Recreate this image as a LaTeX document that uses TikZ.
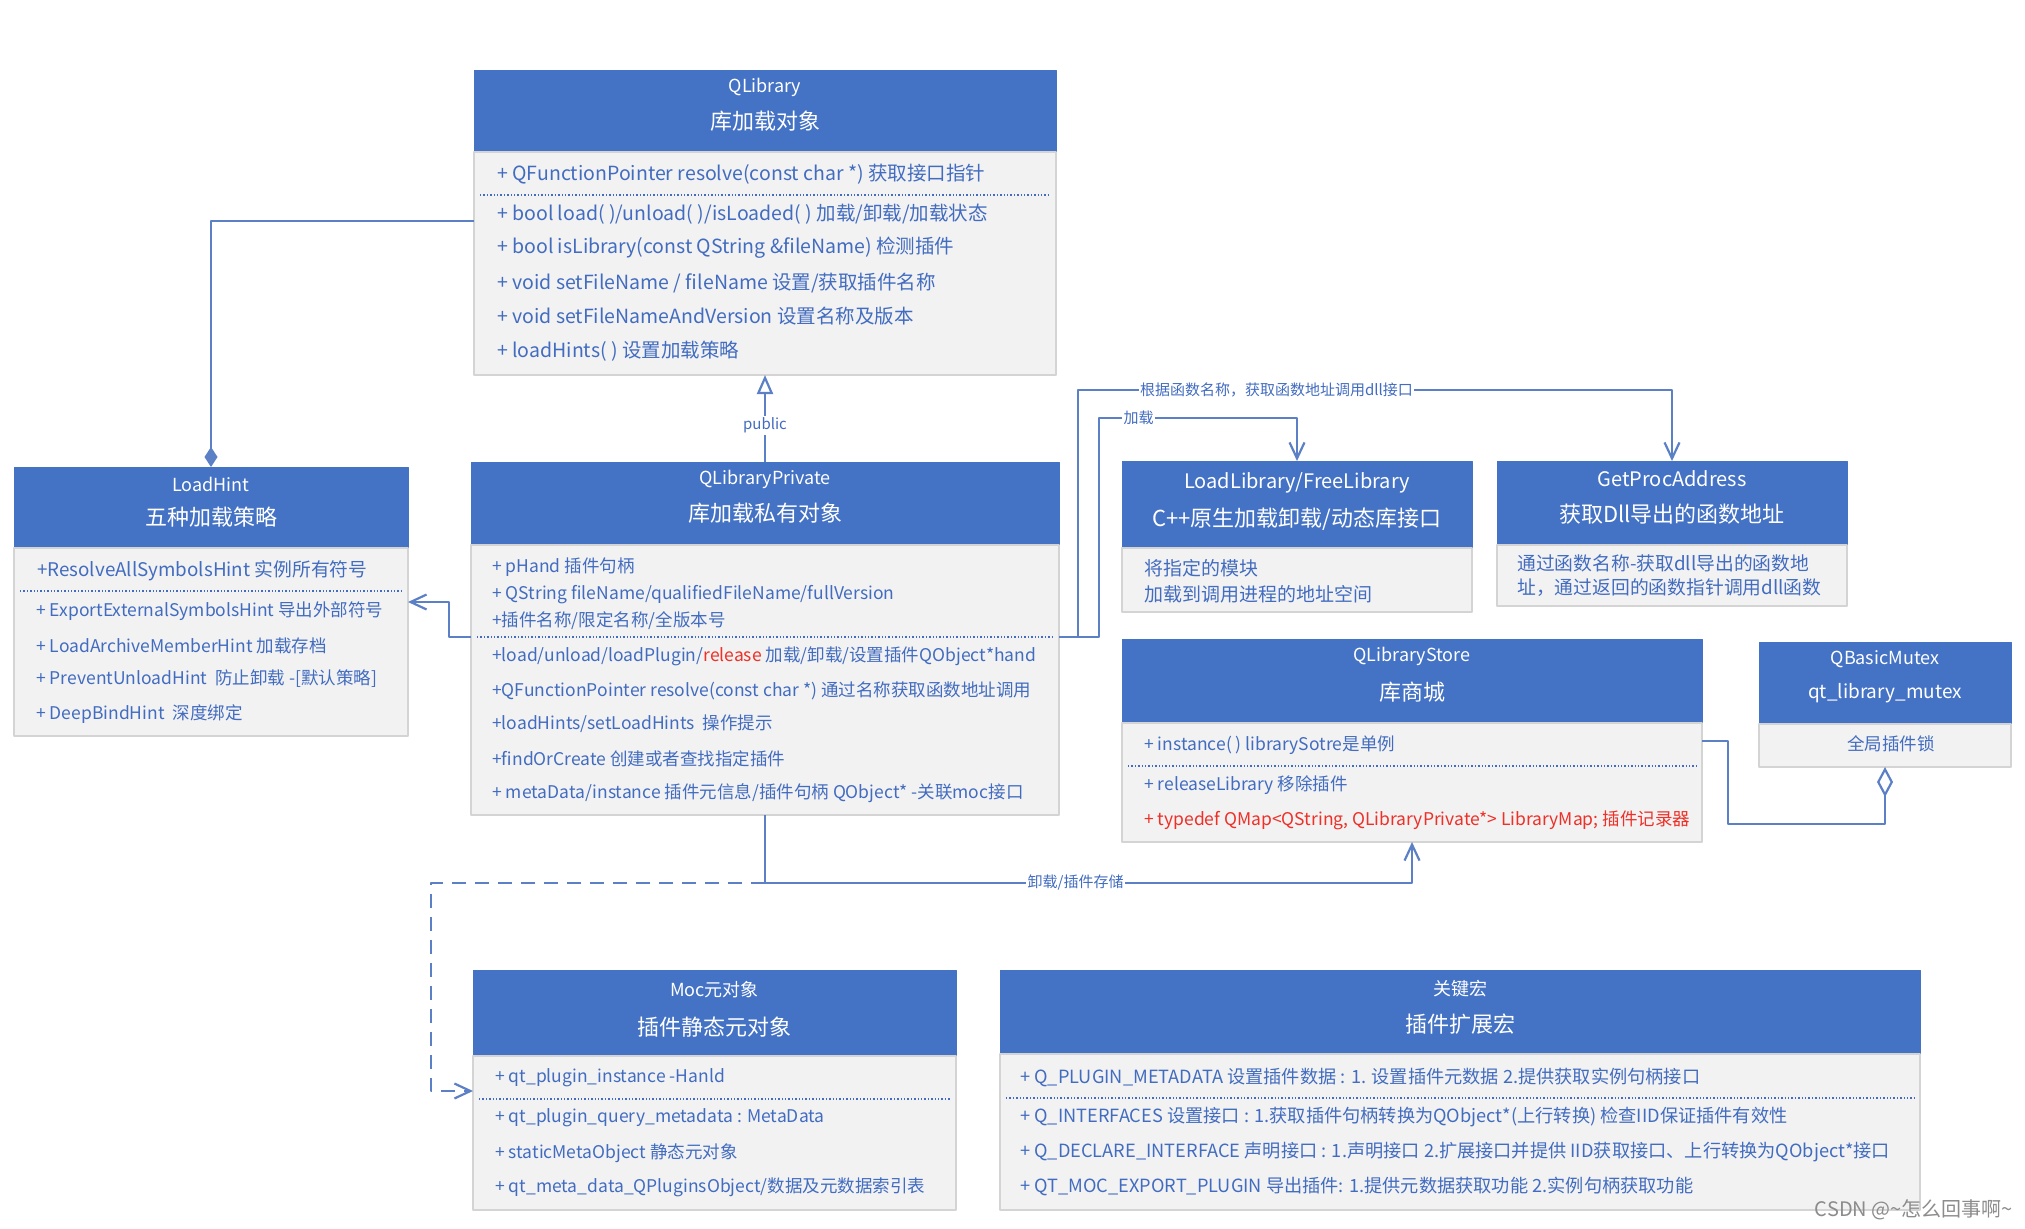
\documentclass[tikz,border=0pt]{standalone}
\usepackage{fontspec}
\setmainfont{Noto Sans CJK SC}
\usetikzlibrary{arrows.meta,positioning}
\definecolor{hblue}{RGB}{68,114,196}
\definecolor{tblue}{RGB}{66,108,192}
\definecolor{cblue}{RGB}{92,128,198}
\definecolor{bodyfill}{RGB}{242,242,242}
\definecolor{bodyline}{RGB}{212,212,212}
\definecolor{hred}{RGB}{238,48,40}

\tikzset{
  head/.style={fill=hblue, draw=hblue, inner sep=0pt, outer sep=0pt},
  body/.style={fill=bodyfill, draw=bodyline, line width=1.5pt, inner sep=0pt, outer sep=0pt},
  hname/.style={text=white, inner sep=0pt, font=\fontsize{18}{20}\selectfont},
  hdesc/.style={text=white, inner sep=0pt, font=\fontsize{22}{24}\selectfont},
  member/.style={anchor=west, text=tblue, inner sep=0pt, font=\fontsize{17.5}{19}\selectfont},
  bigmember/.style={member, font=\fontsize{19.5}{21}\selectfont},
  sepline/.style={tblue, line width=1.4pt, dotted},
  conn/.style={cblue, line width=2.2pt},
  lbl/.style={fill=white, text=tblue, inner sep=1.5pt, font=\fontsize{15}{17}\selectfont},
}

\begin{document}
\begin{tikzpicture}[x=1pt, y=-1pt, line join=round]
\fill[white] (0,0) rectangle (2025,1228);
\useasboundingbox (0,0) rectangle (2025,1228);

% QLibrary
\node[head, minimum width=582, minimum height=82] (qlibHead) at (765,111) {};
\node[body, minimum width=582, minimum height=223, below=0pt of qlibHead] (qlibBody) {};
\node[hname] (qlibName) at (765,87) {QLibrary};
\node[hdesc] (qlibDesc) at (765,121) {库加载对象};
\node[bigmember] (qlibM1) at (497,174) {+ QFunctionPointer resolve(const char *) 获取接口指针};
\draw[sepline] (480,195) -- (1050,195);
\node[bigmember] (qlibM2) at (497,214) {+ bool load( )/unload( )/isLoaded( ) 加载/卸载/加载状态};
\node[bigmember] (qlibM3) at (497,248) {+ bool isLibrary(const QString \&fileName) 检测插件};
\node[bigmember] (qlibM4) at (497,283) {+ void setFileName / fileName 设置/获取插件名称};
\node[bigmember] (qlibM5) at (497,316) {+ void setFileNameAndVersion 设置名称及版本};
\node[bigmember] (qlibM6) at (497,351) {+ loadHints( ) 设置加载策略};

% LoadHint
\node[head, minimum width=394, minimum height=81] (hintHead) at (211,507.5) {};
\node[body, minimum width=394, minimum height=188, below=0pt of hintHead] (hintBody) {};
\node[hname] (hintName) at (211,484) {LoadHint};
\node[hdesc] (hintDesc) at (211,517) {五种加载策略};
\node[member, font=\fontsize{18.8}{20}\selectfont] (hintM1) at (37,571) {+ResolveAllSymbolsHint 实例所有符号};
\draw[sepline] (20,591) -- (402,591);
\node[member] (hintM2) at (36,611) {+ ExportExternalSymbolsHint 导出外部符号};
\node[member] (hintM3) at (36,646) {+ LoadArchiveMemberHint 加载存档};
\node[member] (hintM4) at (36,679) {+ PreventUnloadHint \ 防止卸载 -[默认策略]};
\node[member] (hintM5) at (36,714) {+ DeepBindHint \ 深度绑定};

% QLibraryPrivate
\node[head, minimum width=588, minimum height=83] (qprivHead) at (765,503.5) {};
\node[body, minimum width=588, minimum height=270, below=0pt of qprivHead] (qprivBody) {};
\node[hname] (qprivName) at (765,479) {QLibraryPrivate};
\node[hdesc] (qprivDesc) at (765,513) {库加载私有对象};
\node[member] (qprivM1) at (492,567) {+ pHand 插件句柄};
\node[member] (qprivM2) at (492,595) {+ QString fileName/qualifiedFileName/fullVersion};
\node[member] (qprivM3) at (492,621) {+插件名称/限定名称/全版本号};
\draw[sepline] (477,637) -- (1052,637);
\node[member] (qprivM4) at (492,656) {+load/unload/loadPlugin/\textcolor{hred}{release} 加载/卸载/设置插件QObject*hand};
\node[member] (qprivM5) at (492,691) {+QFunctionPointer resolve(const char *) 通过名称获取函数地址调用};
\node[member] (qprivM6) at (492,724) {+loadHints/setLoadHints \ 操作提示};
\node[member] (qprivM7) at (492,759) {+findOrCreate 创建或者查找指定插件};
\node[member] (qprivM8) at (492,793) {+ metaData/instance 插件元信息/插件句柄 QObject* -关联moc接口};

% LoadLibrary
\node[head, minimum width=350, minimum height=87] (llHead) at (1297,504.5) {};
\node[body, minimum width=350, minimum height=64, below=0pt of llHead] (llBody) {};
\node[hname, font=\fontsize{20}{22}\selectfont] (llName) at (1297,483) {LoadLibrary/FreeLibrary};
\node[hdesc] (llDesc) at (1297,519) {C++原生加载卸载/动态库接口};
\node[member, font=\fontsize{19}{21}\selectfont] (llM1) at (1144,568) {将指定的模块};
\node[member, font=\fontsize{19}{21}\selectfont] (llM2) at (1144,594) {加载到调用进程的地址空间};

% GetProcAddress
\node[head, minimum width=350, minimum height=84] (gpaHead) at (1672,503) {};
\node[body, minimum width=350, minimum height=61, below=0pt of gpaHead] (gpaBody) {};
\node[hname, font=\fontsize{20}{22}\selectfont] (gpaName) at (1672,479) {GetProcAddress};
\node[hdesc] (gpaDesc) at (1672,514) {获取Dll导出的函数地址};
\node[member, font=\fontsize{18.8}{20}\selectfont] (gpaM1) at (1517,563) {通过函数名称-获取dll导出的函数地};
\node[member, font=\fontsize{18.8}{20}\selectfont] (gpaM2) at (1517,588) {址，通过返回的函数指针调用dll函数};

% QLibraryStore
\node[head, minimum width=580, minimum height=84] (qstoreHead) at (1412,681) {};
\node[body, minimum width=580, minimum height=119, below=0pt of qstoreHead] (qstoreBody) {};
\node[hname] (qstoreName) at (1412,656) {QLibraryStore};
\node[hdesc] (qstoreDesc) at (1412,692) {库商城};
\node[member] (qstoreM1) at (1144,745) {+ instance( ) librarySotre是单例};
\draw[sepline] (1128,766) -- (1696,766);
\node[member] (qstoreM2) at (1144,785) {+ releaseLibrary 移除插件};
\node[member, text=hred] (qstoreM3) at (1144,820) {+ typedef QMap<QString, QLibraryPrivate*> LibraryMap; 插件记录器};

% QBasicMutex
\node[head, minimum width=252, minimum height=82] (mutexHead) at (1885,683) {};
\node[body, minimum width=252, minimum height=43, below=0pt of mutexHead] (mutexBody) {};
\node[hname] (mutexName) at (1885,659) {QBasicMutex};
\node[hname, font=\fontsize{19}{21}\selectfont] (mutexDesc) at (1885,693) {qt\_library\_mutex};
\node[member, anchor=center] (mutexM1) at (1891,744) {全局插件锁};

% Moc
\node[head, minimum width=483, minimum height=86] (mocHead) at (714.5,1013) {};
\node[body, minimum width=483, minimum height=154, below=0pt of mocHead] (mocBody) {};
\node[hname] (mocName) at (714.5,990) {Moc元对象};
\node[hdesc] (mocDesc) at (714.5,1027) {插件静态元对象};
\node[member] (mocM1) at (495,1078) {+ qt\_plugin\_instance -Hanld};
\draw[sepline] (479,1099) -- (950,1099);
\node[member] (mocM2) at (495,1118) {+ qt\_plugin\_query\_metadata : MetaData};
\node[member] (mocM3) at (495,1153) {+ staticMetaObject 静态元对象};
\node[member] (mocM4) at (495,1187) {+ qt\_meta\_data\_QPluginsObject/数据及元数据索引表};

% key macros
\node[head, minimum width=920, minimum height=84] (macroHead) at (1460,1012) {};
\node[body, minimum width=920, minimum height=156, below=0pt of macroHead] (macroBody) {};
\node[hname] (macroName) at (1460,989) {关键宏};
\node[hdesc] (macroDesc) at (1460,1024) {插件扩展宏};
\node[member, font=\fontsize{18.2}{20}\selectfont] (macroM1) at (1020,1077) {+ Q\_PLUGIN\_METADATA 设置插件数据 : 1. 设置插件元数据 2.提供获取实例句柄接口};
\draw[sepline] (1006,1098) -- (1914,1098);
\node[member, font=\fontsize{18.2}{20}\selectfont] (macroM2) at (1020,1117) {+ Q\_INTERFACES 设置接口 : 1.获取插件句柄转换为QObject*(上行转换) 检查IID保证插件有效性};
\node[member, font=\fontsize{18.2}{20}\selectfont] (macroM3) at (1020,1152) {+ Q\_DECLARE\_INTERFACE 声明接口 : 1.声明接口 2.扩展接口并提供 IID获取接口、上行转换为QObject*接口};
\node[member, font=\fontsize{18.2}{20}\selectfont] (macroM4) at (1020,1186) {+ QT\_MOC\_EXPORT\_PLUGIN 导出插件: 1.提供元数据获取功能 2.实例句柄获取功能};

% connectors
\draw[conn, -{Diamond[length=20pt,width=13pt]}] (qlibBody.west |- 0,221) -| (hintHead.north);
\draw[conn, -{Triangle[open,fill=white,length=19pt,width=16pt]}] (qprivHead.north) -- (qlibBody.south)
  node[lbl, pos=.42] (lblPublic) {public};
\draw[conn, -{Straight Barb[length=16pt,width=15pt]}] (qprivBody.west |- 0,637) -- (449,637) |- (hintBody.east |- 0,602);
\draw[conn, -{Straight Barb[length=16pt,width=15pt]}] (qprivBody.east |- 0,637) -- (1099,637) |- (1297,418)
  node[lbl, pos=.6] (lblLoad) {加载} -- (llHead.north);
\draw[conn, -{Straight Barb[length=16pt,width=15pt]}] (qprivBody.east |- 0,637) -- (1078,637) |- (1672,390)
  node[lbl, pos=.667] (lblProc) {根据函数名称，获取函数地址调用dll接口} -- (gpaHead.north);
\draw[conn, -{Straight Barb[length=16pt,width=15pt]}] (qprivBody.south) -- ++(0,68) coordinate (split) -| (qstoreBody.south)
  node[lbl, pos=.24] (lblStore) {卸载/插件存储};
\draw[conn, dash pattern=on 14pt off 9pt, -{Straight Barb[length=16pt,width=15pt]}] (split) -- (431,883) |- (mocBody.west |- 0,1091);
\draw[conn, -{Diamond[open,fill=white,length=30pt,width=16pt]}] (qstoreBody.east |- 0,741) -- (1728,741) |- (1885,824) -- (mutexBody.south);

\node[anchor=east, text=black!45, inner sep=0pt, font=\fontsize{20}{22}\selectfont] (mark) at (2013,1210) {CSDN @\textasciitilde 怎么回事啊\textasciitilde};
\end{tikzpicture}
\end{document}
